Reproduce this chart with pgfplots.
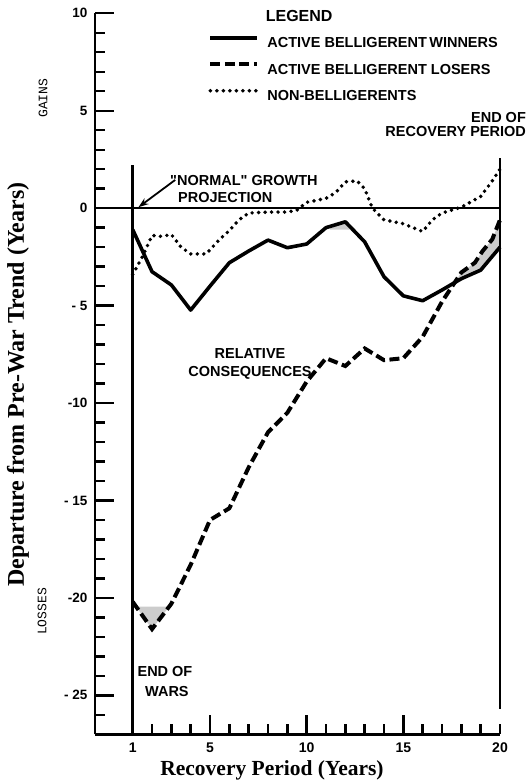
\documentclass[border=0pt]{standalone}
\usepackage{fontspec}
\setmainfont{Liberation Serif}
\newfontfamily\annot{Liberation Sans}
\newfontfamily\mono{Liberation Mono}
\usepackage{pgfplots}
\pgfplotsset{compat=1.18}
\usepgfplotslibrary{fillbetween}
\usetikzlibrary{arrows.meta}

\pgfplotstableread{
x y
1 -1.1
2 -3.26
3 -3.94
4 -5.23
5 -4.0
6 -2.8
7 -2.2
8 -1.64
9 -2.03
10 -1.84
11 -1.0
12 -0.7
13 -1.73
14 -3.52
15 -4.5
16 -4.75
17 -4.2
18 -3.62
19 -3.18
20 -2.0
}\winners

\pgfplotstableread{
x y
1 -20.2
2 -21.6
3 -20.3
4 -18.3
5 -16.0
6 -15.4
7 -13.3
8 -11.5
9 -10.5
10 -8.9
11 -7.7
12 -8.1
13 -7.2
14 -7.8
15 -7.7
16 -6.6
17 -4.8
18 -3.3
18.7 -2.8
19.1 -2.2
19.6 -1.6
20 -0.6
}\losers

\pgfplotstableread{
x y
1 -3.4
1.5 -2.5
2 -1.4
2.5 -1.45
3 -1.35
3.5 -2.0
4 -2.35
4.8 -2.35
5.5 -1.6
6 -1.15
6.5 -0.6
7 -0.25
8 -0.2
9 -0.2
9.5 -0.1
10 0.3
11 0.5
11.5 0.8
12 1.35
12.6 1.4
13 1.0
13.4 0.0
14 -0.6
15 -0.8
16 -1.2
16.5 -0.6
17 -0.25
18 0.05
19 0.6
19.6 1.4
20 2.0
}\nonbel

\begin{document}
\begin{tikzpicture}
\begin{axis}[
  set layers,
  scale only axis, width=405pt, height=721pt,
  xmin=-0.95, xmax=20, ymin=-27, ymax=10,
  axis x line*=bottom, axis y line*=left,
  axis line style={line width=2.8pt, -},
  xtick={5,10,15}, xticklabels={5,10,15},
  extra x ticks={1,20}, extra x tick labels={1,20},
  extra x tick style={major tick length=10pt},
  minor xtick={2,3,4,6,7,8,9,11,12,13,14,16,17,18,19},
  ytick={-25,-20,-15,-10,-5,0,5,10},
  yticklabels={- 25,-20,- 15,-10,- 5,0,5,10},
  minor ytick={-26,-24,-23,-22,-21,-19,-18,-17,-16,-14,-13,-12,-11,-9,-8,-7,-6,-4,-3,-2,-1,1,2,3,4,6,7,8,9},
  tick align=inside,
  major tick length=19pt, minor tick length=10pt,
  every tick/.style={line width=2.4pt, black},
  xticklabel style={font=\annot\bfseries\fontsize{14}{14}\selectfont, yshift=-5pt},
  yticklabel style={font=\annot\bfseries\fontsize{13.5}{13.5}\selectfont, xshift=-4pt},
  xlabel={Recovery Period (Years)},
  ylabel={Departure from Pre-War Trend (Years)},
  xlabel style={font=\bfseries\fontsize{21.5}{24}\selectfont, at={(rel axis cs:0.437,-0.0495)}, anchor=center},
  ylabel style={font=\bfseries\fontsize{24}{26}\selectfont, at={(rel axis cs:-0.19,0.485)}, anchor=center},
  clip=false,
  legend style={draw=none, fill=none, at={(axis cs:4.75,8.95)}, anchor=north west,
    font=\annot\bfseries\fontsize{14.5}{16}\selectfont,
    nodes={inner sep=0pt, text height=10pt, text depth=0pt},
    row sep=14.5pt, column sep=8pt},
  legend cell align=left,
  legend image code/.code={\draw[#1] (0pt,5pt) -- (47pt,5pt);},
]
% reference lines
\addplot[line width=1.8pt, forget plot] coordinates {(-0.95,0) (20,0)};
\addplot[line width=2.4pt, forget plot] coordinates {(1,-27) (1,2.2)};
\addplot[line width=2.4pt, forget plot] coordinates {(20,-25.7) (20,2.56)};

\addplot[line width=3.6pt, line join=round, name path=win] table {\winners};
\addlegendentry{ACTIVE BELLIGERENT\,WINNERS}
\addplot[line width=4pt, dash pattern=on 10pt off 4.5pt, name path=los] table {\losers};
\addlegendentry{ACTIVE BELLIGERENT LOSERS}
\addplot[line width=3.9pt, line cap=round, dash pattern=on 0pt off 6.5pt] table {\nonbel};
\addlegendentry{NON-BELLIGERENTS}

% stippled areas
\addplot[gray!40, forget plot] fill between[of=los and win, soft clip={domain=17.6:20}];
\addplot[draw=none, name path=chordA, forget plot] coordinates {(1.1,-20.45) (2.95,-20.45)};
\addplot[gray!40, forget plot] fill between[of=los and chordA, soft clip={domain=1.1:2.95}];
\addplot[draw=none, name path=chordB, forget plot] coordinates {(11.2,-1.1) (12.4,-1.1)};
\addplot[gray!40, forget plot] fill between[of=win and chordB, soft clip={domain=11.2:12.4}];

% arrow
\addplot[line width=1.8pt, -{Stealth[length=10pt,width=7pt]}, forget plot] coordinates {(3.2,1.45) (1.3,0.05)};

% annotations
\begin{scope}[every node/.style={font=\annot\bfseries\fontsize{14.5}{16}\selectfont, inner sep=0pt}]
\node[font=\annot\bfseries\fontsize{16}{18}\selectfont] at (axis cs:9.61,9.85) {LEGEND};
\node[anchor=west] at (axis cs:2.93,1.43) {"NORMAL" GROWTH};
\node[anchor=west] at (axis cs:3.34,0.56) {PROJECTION};
\node[anchor=east] at (axis cs:21.35,4.64) {END OF};
\node[anchor=east] at (axis cs:21.35,3.92) {RECOVERY PERIOD};
\node at (axis cs:7.07,-7.48) {RELATIVE};
\node at (axis cs:7.07,-8.43) {CONSEQUENCES};
\node at (axis cs:2.67,-23.8) {END OF};
\node at (axis cs:2.77,-24.8) {WARS};
\node[font=\mono\fontsize{13}{13}\selectfont, rotate=90] at (axis cs:-3.64,5.64) {GAINS};
\node[font=\mono\fontsize{13}{13}\selectfont, rotate=90] at (axis cs:-3.69,-20.7) {LOSSES};
\end{scope}
\end{axis}
\pgfresetboundingbox
\path[use as bounding box] (-95pt,-49.7pt) rectangle (436pt,734.3pt);
\end{tikzpicture}
\end{document}
